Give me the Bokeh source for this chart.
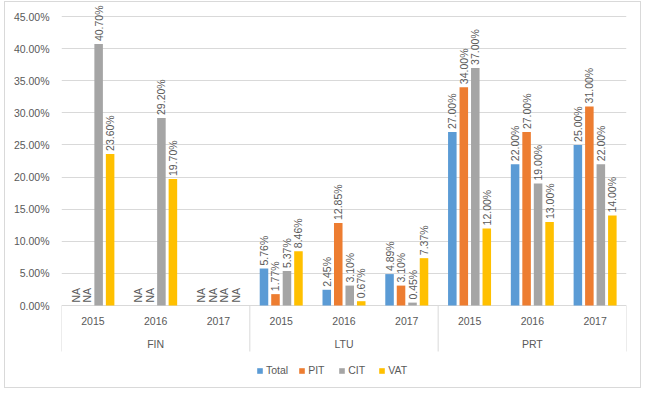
import math
from bokeh.plotting import figure
from bokeh.models import (FactorRange, Range1d, FixedTicker, PrintfTickFormatter,
                          ColumnDataSource, Legend, LegendItem)
from bokeh.transform import dodge
from bokeh.embed import file_html
from bokeh.resources import INLINE
from bokeh.core.properties import value

countries = ["FIN", "LTU", "PRT"]
years = ["2015", "2016", "2017"]
series = ["Total", "PIT", "CIT", "VAT"]
colors = ["#5B9BD5", "#ED7D31", "#A5A5A5", "#FFC000"]
# values in percent; None = NA
total = [None, None, None, 5.76, 2.45, 4.89, 27.00, 22.00, 25.00]
pit = [None, None, None, 1.77, 12.85, 3.10, 34.00, 27.00, 31.00]
cit = [40.70, 29.20, None, 5.37, 3.10, 0.45, 37.00, 19.00, 22.00]
vat = [23.60, 19.70, None, 8.46, 0.67, 7.37, 12.00, 13.00, 14.00]
y_ticks = [0, 5, 10, 15, 20, 25, 30, 35, 40, 45]

FONT = "Liberation Sans"
TXT = "#595959"
GRID = "#D9D9D9"
FS = "10.5px"

# pixel geometry (window coords) -> data coords
PX = 289 / 45.0          # px per percent
ZERO_Y = 306
TOP_Y, BOT_Y = 3, 390


def ypx(py):
    return (ZERO_Y - py) / PX


factors = [(c, y) for c in countries for y in years]

p = figure(width=637, height=387, output_backend="svg", toolbar_location=None,
           x_range=FactorRange(*factors, factor_padding=0, group_padding=0, range_padding=0),
           y_range=Range1d(ypx(BOT_Y), ypx(TOP_Y)), x_axis_location=None,
           min_border_left=56, min_border_right=16, min_border_top=0, min_border_bottom=0)
p.styles = {"border": "1px solid #D9D9D9", "margin-left": "4px", "margin-top": "1px"}
p.outline_line_color = None
p.xgrid.grid_line_color = None
p.ygrid.grid_line_color = GRID
p.ygrid.ticker = FixedTicker(ticks=y_ticks)

p.yaxis.ticker = FixedTicker(ticks=y_ticks)
p.yaxis.formatter = PrintfTickFormatter(format="%.2f%%")
p.yaxis.axis_line_color = None
p.yaxis.major_tick_line_color = None
p.yaxis.minor_tick_line_color = None
p.yaxis.major_tick_out = 0
p.yaxis.major_tick_in = 0
p.yaxis.major_label_standoff = 12
p.yaxis.major_label_text_font = FONT
p.yaxis.major_label_text_font_size = FS
p.yaxis.major_label_text_color = TXT

pitch = 0.183
bw = 0.136
items = []
for i, (name, vals, col) in enumerate(zip(series, [total, pit, cit, vat], colors)):
    off = (i - 1.5) * pitch
    src = ColumnDataSource(dict(
        x=factors,
        top=[v if v is not None else 0 for v in vals],
        label=[f"{v:.2f}%" if v is not None else "NA" for v in vals],
    ))
    r = p.vbar(x=dodge("x", off, range=p.x_range), top="top", width=bw, source=src,
               fill_color=col, line_color=None)
    p.text(x=dodge("x", off, range=p.x_range), y="top", text="label", source=src,
           angle=math.pi / 2, text_align="left", text_baseline="middle", y_offset=-3,
           text_font=value(FONT), text_font_size=FS, text_color=TXT)
    items.append(LegendItem(label=name, renderers=[r]))

# category axis (years, countries, separators)
ysrc = ColumnDataSource(dict(x=factors, lab=[f[1] for f in factors]))
p.text(x="x", y=ypx(321), text="lab", source=ysrc, text_align="center",
       text_baseline="middle", text_font=value(FONT), text_font_size=FS, text_color=TXT)
csrc = ColumnDataSource(dict(x=countries, lab=countries))
p.text(x="x", y=ypx(344), text="lab", source=csrc, text_align="center",
       text_baseline="middle", text_font=value(FONT), text_font_size=FS, text_color=TXT)
sep_src = ColumnDataSource(dict(x=[(c, years[0]) for c in countries]))
p.segment(x0=dodge("x", -0.5, range=p.x_range), x1=dodge("x", -0.5, range=p.x_range),
          y0=0, y1=ypx(352), source=sep_src, line_color=GRID, line_width=1)
end_src = ColumnDataSource(dict(x=[(countries[-1], years[-1])]))
p.segment(x0=dodge("x", 0.5, range=p.x_range), x1=dodge("x", 0.5, range=p.x_range),
          y0=0, y1=ypx(352), source=end_src, line_color=GRID, line_width=1)

legend = Legend(items=items, orientation="horizontal", location=(195, 13),
                label_text_font=FONT, label_text_font_size=FS, label_text_color=TXT,
                glyph_width=7, glyph_height=7, spacing=10, label_standoff=3,
                border_line_color=None, background_fill_alpha=0, padding=0, margin=0)
p.add_layout(legend)

open("out.html", "w").write(file_html(p, INLINE))
